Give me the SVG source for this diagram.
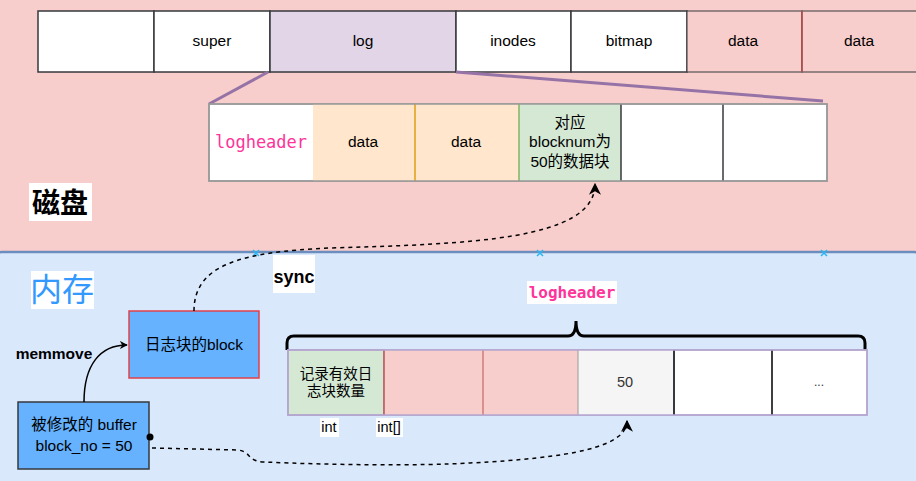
<svg xmlns="http://www.w3.org/2000/svg" width="916" height="481" viewBox="0 0 916 481">
<style>
text{font-family:"Liberation Sans",Arial,"Noto Sans CJK SC",sans-serif;font-size:15.5px;fill:#000;text-anchor:middle;dominant-baseline:central}
.mono{font-family:"DejaVu Sans Mono","Liberation Mono",monospace;fill:#ff3399}
.b{font-weight:bold}
.dash{fill:none;stroke:#000;stroke-width:1.5;stroke-dasharray:4 4}
.cellw{fill:#fff;stroke:#36393d;stroke-width:1.5}
.bg{fill:#fff}
.x{stroke:#29b6f2;stroke-width:1.5}
</style>
<defs>
<marker id="arr" viewBox="0 0 10 10" refX="9" refY="5" markerWidth="8" markerHeight="8" orient="auto" markerUnits="userSpaceOnUse" >
<path d="M0 0 L10 5 L0 10 L3 5 Z" fill="#000"/>
</marker>
<marker id="arr2" viewBox="0 0 10 10" refX="9" refY="5" markerWidth="12" markerHeight="12" orient="auto" markerUnits="userSpaceOnUse">
<path d="M0 0 L10 5 L0 10 L3 5 Z" fill="#000"/>
</marker>
</defs>
<!-- regions -->
<g id="disk">
<rect x="-10" y="-10" width="936" height="262" rx="8" fill="#f8cecc" stroke="#ff0000" stroke-width="2"/>
</g>
<g id="memory">
<rect x="-10" y="252" width="936" height="250" rx="12" fill="#dae8fc" stroke="#6c8ebf" stroke-width="2.5"/>
</g>
<line class="x" x1="253" y1="250" x2="259" y2="256"/><line class="x" x1="259" y1="250" x2="253" y2="256"/>
<line class="x" x1="537" y1="250" x2="543" y2="256"/><line class="x" x1="543" y1="250" x2="537" y2="256"/>
<line class="x" x1="821" y1="250" x2="827" y2="256"/><line class="x" x1="827" y1="250" x2="821" y2="256"/>

<!-- top disk row -->
<g id="top-row">
<rect class="cellw" x="38" y="11" width="116" height="61"/>
<g id="super"><rect class="cellw" x="154" y="11" width="116" height="61"/><text x="212" y="40">super</text></g>
<g id="log"><rect x="270" y="11" width="186" height="61" fill="#e1d5e7" stroke="#36393d" stroke-width="1.5"/><text x="363" y="40">log</text></g>
<g id="inodes"><rect class="cellw" x="456" y="11" width="115" height="61"/><text x="513" y="40">inodes</text></g>
<g id="bitmap"><rect class="cellw" x="571" y="11" width="116" height="61"/><text x="629" y="40">bitmap</text></g>
<g id="data1"><rect x="687" y="11" width="115" height="61" fill="#f8cecc" stroke="#36393d" stroke-width="1"/><line x1="802" y1="11" x2="802" y2="72" stroke="#b85450" stroke-width="1.5"/><text x="743" y="40">data</text></g>
<g id="data2"><rect x="802" y="11" width="130" height="61" fill="#f8cecc" stroke="#36393d" stroke-width="1"/><line x1="802" y1="11" x2="802" y2="72" stroke="#b85450" stroke-width="1.5"/><text x="859" y="40">data</text></g>
</g>

<!-- zoom lines -->
<g id="zoom-lines" stroke="#9673a6" stroke-width="3">
<line x1="268" y1="72" x2="209" y2="104"/>
<line x1="456" y1="72" x2="823" y2="101"/>
</g>

<!-- log row -->
<g id="log-row">
<rect x="209" y="104" width="618" height="77" fill="#fff" stroke="#999" stroke-width="1.5"/>
<g id="lh"><text class="mono" x="261" y="142" style="font-size:17px">logheader</text></g>
<g id="ld1"><rect x="313" y="104" width="102" height="77" fill="#ffe6cc"/><text x="363" y="141">data</text></g>
<g id="ld2"><rect x="415" y="104" width="104" height="77" fill="#ffe6cc"/><line x1="415" y1="104" x2="415" y2="181" stroke="#e8b040" stroke-width="2"/><text x="466" y="141">data</text></g>
<g id="lgreen"><rect x="519" y="104" width="102" height="77" fill="#d5e8d4"/><line x1="519" y1="104" x2="519" y2="181" stroke="#82b366" stroke-width="1.5"/>
<text x="570" y="122">对应</text><text x="570" y="141">blocknum为</text><text x="570" y="161">50的数据块</text></g>
<line x1="621" y1="104" x2="621" y2="181" stroke="#36393d" stroke-width="1.5"/>
<line x1="723" y1="104" x2="723" y2="181" stroke="#36393d" stroke-width="1.5"/>
<rect x="209" y="104" width="618" height="77" fill="none" stroke="#999" stroke-width="1.5"/>
</g>

<g id="disk-label"><rect class="bg" x="29" y="183" width="63" height="38"/><text class="b" x="60" y="203" style="font-size:28px">磁盘</text></g>
<g id="mem-label"><rect class="bg" x="31" y="271" width="63" height="38"/><text x="62" y="290" style="font-size:32px;fill:#3399ff">内存</text></g>

<!-- memory nodes -->
<g id="log-block"><rect x="129" y="311" width="130" height="67" fill="#66b2ff" stroke="#e0414b" stroke-width="1.5"/><text x="194" y="344">日志块的block</text></g>
<g id="buffer"><rect x="18" y="402" width="131" height="67" fill="#66b2ff" stroke="#36393d" stroke-width="1.5"/><text x="84" y="424">被修改的 buffer</text><text x="84" y="445">block_no = 50</text></g>

<g id="lh-label"><rect class="bg" x="527" y="281" width="90" height="23"/><text class="mono b" x="572" y="292" style="font-size:16px">logheader</text></g>
<path d="M287 350 L287 343 Q287 336 294 336 L568 336 Q576 336 576 321 Q576 336 584 336 L858 336 Q865 336 865 343 L865 350" fill="none" stroke="#000" stroke-width="3"/>

<g id="mem-row">
<rect x="288" y="350" width="579" height="65" fill="#fff" stroke="#b5a6cf" stroke-width="1.5"/>
<g id="m-count"><rect x="288" y="350" width="96" height="65" fill="#d5e8d4" stroke="#b5a6cf" stroke-width="1.5"/><text x="336" y="374" style="font-size:14.5px">记录有效日</text><text x="336" y="391" style="font-size:14.5px">志块数量</text></g>
<g id="m1"><rect x="384" y="350" width="99" height="65" fill="#f8cecc"/><line x1="384" y1="350" x2="384" y2="415" stroke="#b85450" stroke-width="1.5"/></g>
<g id="m2"><rect x="483" y="350" width="95" height="65" fill="#f8cecc"/><line x1="483" y1="350" x2="483" y2="415" stroke="#b85450" stroke-width="1"/></g>
<g id="m50"><rect x="578" y="350" width="96" height="65" fill="#f5f5f5"/><line x1="578" y1="350" x2="578" y2="415" stroke="#999" stroke-width="1"/><text x="625" y="382" style="font-size:14.5px;fill:#333">50</text></g>
<g id="m4"><line x1="674" y1="350" x2="674" y2="415" stroke="#36393d" stroke-width="2"/></g>
<g id="m5"><line x1="772" y1="350" x2="772" y2="415" stroke="#000" stroke-width="1.5"/><text x="819" y="382" style="font-size:12px;fill:#333">...</text></g>
<rect x="288" y="350" width="579" height="65" fill="none" stroke="#b5a6cf" stroke-width="1.5"/>
</g>

<g id="int-labels">
<rect class="bg" x="320" y="418" width="19" height="19"/><text x="329" y="427" style="font-size:14.5px">int</text>
<rect class="bg" x="376" y="418" width="27" height="19"/><text x="389" y="427" style="font-size:14.5px">int[]</text>
</g>

<!-- connectors -->
<g id="connectors">
<path d="M84 402 C84 365 100 345 127 345" fill="none" stroke="#000" stroke-width="1.5" marker-end="url(#arr)"/>
<path class="dash" d="M194 311 C194 265 240 252 330 248 C470 244 595 240 595 184" marker-end="url(#arr2)"/>
<circle cx="150" cy="437" r="3.5" fill="#000"/>
<path class="dash" d="M152 448 L238 450 C252 452 246 461 264 462 C330 465 420 466 470 463 C570 458 627 447 627 421" marker-end="url(#arr2)"/>
</g>
<g id="conn-labels">
<rect class="bg" x="273" y="255" width="42" height="38"/><text class="b" x="294" y="277" style="font-size:18px">sync</text>
<text class="b" x="54" y="353" style="font-size:15.5px">memmove</text>
</g>
</svg>
